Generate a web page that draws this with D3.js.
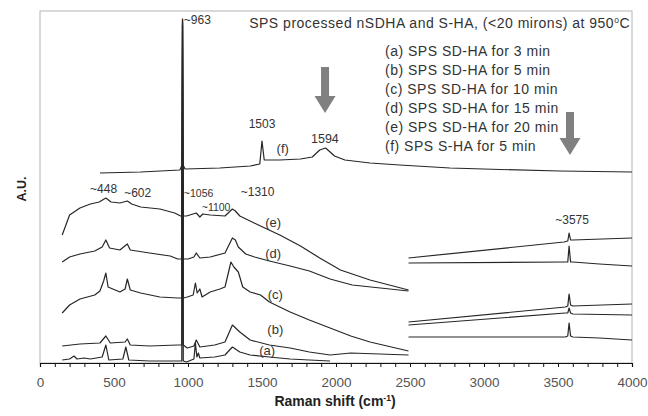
<!DOCTYPE html>
<html>
<head>
<meta charset="utf-8">
<script src="https://cdn.jsdelivr.net/npm/d3@7"></script>
<style>
  body { margin: 0; background: #fff; }
  svg { display: block; font-family: "Liberation Sans", Arial, sans-serif; }
  .curve { fill: none; stroke: #262626; stroke-width: 1.2; stroke-linejoin: round; }
  .lbl { fill: #333; }
</style>
</head>
<body>
<script>
// spectra, [Raman shift, A.U.] (low range part)
var specA = [[150,3],[200,4],[230,7],[250,4],[300,5],[340,4],[420,6],[445,18],[465,3],[560,4],[580,16],[600,3],
  [740,2],[930,2],[958,2],[963,344],[968,2],[990,1],[1040,4],[1050,20],[1060,6],[1070,10],[1080,5],[1180,6],
  [1250,8],[1300,16],[1350,11],[1420,8],[1550,6],[1690,4],[1820,3],[1960,2]];
var specB = [[150,17],[270,19],[405,20],[445,27],[475,20],[575,21],[590,24],[610,18],[740,17],[930,18],
  [958,18],[963,340],[968,18],[995,15],[1040,17],[1056,23],[1080,16],[1180,18],[1250,21],[1300,38],[1350,31],
  [1420,23],[1550,18],[1690,15],[1820,11],[1960,8],[2100,10],[2490,8]];
var specC = [[150,50],[200,58],[270,64],[370,68],[405,72],[430,82],[445,90],[460,76],[540,71],[575,74],[590,84],
  [610,73],[680,70],[810,66],[930,65],[958,65],[963,342],[968,65],[995,66],[1035,68],[1050,80],[1062,70],
  [1080,74],[1095,66],[1150,71],[1215,74],[1250,76],[1290,101],[1310,96],[1340,91],[1370,76],[1420,71],
  [1490,68],[1550,61],[1690,51],[1820,43],[1960,35],[2100,27],[2230,21],[2490,12]];
var specD = [[150,101],[200,106],[270,109],[370,112],[420,116],[445,123],[470,115],[540,113],[590,119],[610,113],
  [740,110],[880,107],[930,104],[958,104],[963,338],[968,104],[1000,104],[1040,106],[1056,110],[1080,105],
  [1150,106],[1250,110],[1300,125],[1320,123],[1340,116],[1390,109],[1450,106],[1550,102],[1690,97],[1820,92],
  [1960,84],[2110,78],[2300,75],[2490,72]];
var specE = [[150,128],[200,148],[270,155],[340,159],[400,161],[445,165],[480,161],[540,160],[590,162],[620,159],
  [680,156],[810,154],[910,150],[950,147],[958,147],[963,344],[968,147],[990,147],[1056,150],[1080,146],
  [1100,149],[1150,148],[1250,147],[1300,154],[1320,152],[1350,147],[1490,137],[1620,128],[1760,117],
  [1890,105],[2030,93],[2230,83],[2490,73]];
var specF = [[405,190],[680,191],[945,193],[963,199],[980,194],[1215,195],[1420,197],[1485,199],[1500,222],
  [1515,203],[1620,203],[1760,204],[1840,206],[1890,213],[1930,215],[1990,207],[2060,203],[2230,200],
  [2430,198],[2770,195],[3110,193.5],[3510,192],[4000,191]];

// high range part (OH band)
var hiA = [[2490,26],[3550,26],[3566,27],[3575,40],[3585,27],[3600,26],[3780,25],[4000,23]];
var hiB = [[2490,38],[3550,50],[3566,50],[3575,55],[3585,50],[3600,49],[4000,48]];
var hiC = [[2490,41],[3550,56],[3566,57],[3575,69],[3585,58],[3600,57],[4000,59]];
var hiD = [[2490,100],[3550,101],[3566,101],[3575,117],[3585,101],[3600,101],[3780,99],[4000,97]];
var hiE = [[2490,105],[3540,121],[3566,122],[3575,130],[3585,123],[3600,123],[4000,125]];

var legendLines = ["(a) SPS SD-HA for 3 min", "(b) SPS SD-HA for 5 min", "(c) SPS SD-HA for 10 min",
  "(d) SPS SD-HA for 15 min", "(e) SPS SD-HA for 20 min", "(f) SPS S-HA for 5 min"];

// peak annotations: text, shift, A.U.
var peakText = ["~963", "1503", "1594", "~448", "~602", "~1056", "~1100", "~1310", "~3575"];
var peakX    = [972, 1500, 1925, 430, 660, 972, 1190, 1470, 3595];
var peakY    = [339, 235, 220, 170, 166, 166, 152, 167, 139];
var peakSize = [12, 12, 12.5, 12, 12, 10.5, 10.5, 12, 12];
var peakAnchor = ["start", "middle", "middle", "middle", "middle", "start", "middle", "middle", "middle"];

// curve name labels
var curveText = ["(a)", "(b)", "(c)", "(d)", "(e)", "(f)"];
var curveX    = [1535, 1590, 1590, 1575, 1575, 1640];
var curveY    = [8, 29, 64, 105, 136, 210];

// arrows (shift, shaft top, tip)
var arrowX   = [1926, 3581];
var arrowTop = [296, 251];
var arrowTip = [250, 208];

var W = 648, H = 416;
var margin = {top: 11, right: 16, bottom: 53, left: 40};
var width = W - margin.left - margin.right,
    height = H - margin.top - margin.bottom;

var svg = d3.select("body").append("svg")
  .attr("width", W)
  .attr("height", H);

var g = svg.append("g")
  .attr("transform", "translate(" + margin.left + "," + margin.top + ")");

var x = d3.scaleLinear().domain([0, 4000]).range([0, width]);
var y = d3.scaleLinear().domain([0, 352]).range([height, 0]);

// frame
g.append("rect")
  .attr("width", width)
  .attr("height", height)
  .attr("fill", "none")
  .attr("stroke", "#b4b4b4")
  .attr("stroke-width", 1);

var line = d3.line()
  .x(function(d) { return x(d[0]); })
  .y(function(d) { return y(d[1]); });

[specA, specB, specC, specD, specE, specF, hiA, hiB, hiC, hiD, hiE].forEach(function(s) {
  g.append("path")
    .datum(s)
    .attr("class", "curve")
    .attr("d", line);
});

// arrows
arrowX.forEach(function(ax_, i) {
  var cx = x(ax_), y0 = y(arrowTop[i]), tip = y(arrowTip[i]);
  var hl = 17, sw = 4, hw = 10.5;
  g.append("path")
    .attr("d", "M" + (cx - sw) + "," + y0 + "H" + (cx + sw) + "V" + (tip - hl) +
      "H" + (cx + hw) + "L" + cx + "," + tip + "L" + (cx - hw) + "," + (tip - hl) +
      "H" + (cx - sw) + "Z")
    .attr("fill", "#808080");
});

// x axis
var xAxis = d3.axisBottom(x)
  .tickValues(d3.range(0, 4001, 100))
  .tickSize(4)
  .tickPadding(10)
  .tickFormat(function(d) { return d % 500 === 0 ? d : ""; });

var ax = g.append("g")
  .attr("transform", "translate(0," + height + ")")
  .call(xAxis);
ax.select(".domain").attr("stroke", "#111").attr("stroke-width", 1.2);
ax.selectAll(".tick line").attr("stroke", "#111");
ax.selectAll("text")
  .attr("font-family", "'Liberation Sans', Arial, sans-serif")
  .attr("font-size", 13.5)
  .attr("fill", "#555");

// axis titles
var xt = svg.append("text")
  .attr("x", 335)
  .attr("y", 406)
  .attr("text-anchor", "middle")
  .attr("font-weight", "bold")
  .attr("font-size", 14)
  .attr("fill", "#222");
xt.append("tspan").text("Raman shift (cm");
xt.append("tspan").attr("font-size", 8.5).attr("dy", -5).text("-1");
xt.append("tspan").attr("dy", 5).text(")");

svg.append("text")
  .attr("transform", "translate(26,189) rotate(-90)")
  .attr("text-anchor", "middle")
  .attr("font-weight", "bold")
  .attr("font-size", 12.5)
  .attr("fill", "#222")
  .text("A.U.");

// title
var title = g.append("text")
  .attr("class", "lbl")
  .attr("x", width - 2)
  .attr("y", 17)
  .attr("text-anchor", "end")
  .attr("font-size", 14)
  .attr("letter-spacing", 0.5);
title.append("tspan").text("SPS processed nSDHA and S-HA, (<20 mirons) at 950");
title.append("tspan").attr("font-size", 8.5).attr("dy", -5).text("o");
title.append("tspan").attr("dy", 5).text("C");

// legend
g.selectAll(".leg")
  .data(legendLines)
  .enter().append("text")
  .attr("class", "lbl")
  .attr("x", 345)
  .attr("y", function(d, i) { return 45 + i * 19; })
  .attr("font-size", 14)
  .attr("letter-spacing", 0.5)
  .text(function(d) { return d; });

// peak labels
peakText.forEach(function(t, i) {
  g.append("text")
    .attr("class", "lbl")
    .attr("x", x(peakX[i]))
    .attr("y", y(peakY[i]))
    .attr("text-anchor", peakAnchor[i])
    .attr("font-size", peakSize[i])
    .text(t);
});

// curve labels
curveText.forEach(function(t, i) {
  g.append("text")
    .attr("class", "lbl")
    .attr("x", x(curveX[i]))
    .attr("y", y(curveY[i]))
    .attr("text-anchor", "middle")
    .attr("font-size", 13)
    .text(t);
});
</script>
</body>
</html>
